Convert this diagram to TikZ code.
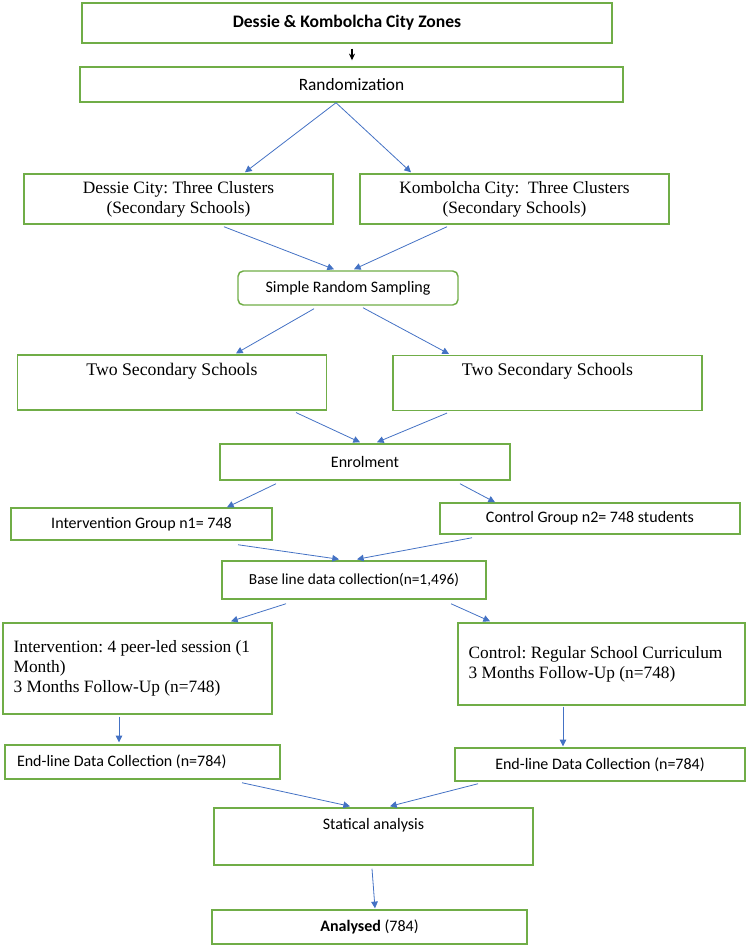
\documentclass[tikz,border=0pt]{standalone}
\usepackage{fontspec}
\setmainfont{Carlito}
\newfontfamily\timesfont{Liberation Serif}
\usetikzlibrary{calc, positioning, arrows.meta}
\definecolor{boxgreen}{RGB}{112,173,71}
\definecolor{arrowblue}{RGB}{68,114,196}
\frenchspacing

\begin{document}
\begin{tikzpicture}[x=0.75pt, y=-0.75pt,
    greenbox/.style={draw=boxgreen, line width=1.1pt, inner sep=0pt, font=\fontsize{12}{14}\selectfont},
    timesbox/.style={greenbox, font=\timesfont\fontsize{13}{15}\selectfont, align=center},
    timeslbl/.style={font=\timesfont\fontsize{13.3}{15}\selectfont, anchor=north, yshift=-3pt},
    bluearrow/.style={draw=arrowblue, line width=0.6pt, -{Triangle[length=5pt, width=5pt]}}]
    \useasboundingbox (0,0) rectangle (748,947);
    % Draw boxes
    \node[greenbox, minimum width=397.5pt, minimum height=30pt, font=\bfseries\fontsize{13.2}{15}\selectfont] (zones) at (347,23) {Dessie \& Kombolcha City Zones};
    \node[greenbox, minimum width=407.25pt, minimum height=26.25pt, font=\fontsize{13}{15}\selectfont] (rand) at (351.5,84.5) {Randomization};
    \node[timesbox, minimum width=231.75pt, minimum height=37.5pt] (dessie) at (178.5,199) {Dessie City: Three Clusters\\(Secondary Schools)};
    \node[timesbox, minimum width=231.75pt, minimum height=37.5pt] (kombol) at (514.5,199) {Kombolcha City:\ \ Three Clusters\\(Secondary Schools)};
    \node[greenbox, rounded corners=4pt, minimum width=165pt, minimum height=25.5pt] (srs) at (348,288) {Simple Random Sampling};
    \node[greenbox, minimum width=232pt, minimum height=41pt, label={[timeslbl]north:Two Secondary Schools}] (tssL) at (172,382.5) {};
    \node[greenbox, minimum width=232pt, minimum height=41pt, label={[timeslbl]north:Two Secondary Schools}] (tssR) at (547.5,383) {};
    \node[greenbox, minimum width=217.5pt, minimum height=27pt] (enrol) at (365,462) {Enrolment};
    \node[greenbox, minimum width=195.75pt, minimum height=24pt] (igrp) at (141.5,524) {Intervention Group n1= 748};
    \node[greenbox, minimum width=225pt, minimum height=23.25pt] (cgrp) at (590,518.5) {Control Group n2= 748 students};
    \node[greenbox, minimum width=198pt, minimum height=28.5pt, font=\fontsize{11.5}{14}\selectfont] (base) at (354,580) {Base line data collection(n=1,496)};
    \node[timesbox, align=flush left, inner xsep=8pt, text width=185.75pt, minimum height=68.25pt] (interv) at (137.5,668.5) {Intervention: 4 peer-led session (1\\Month)\\3 Months Follow-Up (n=748)};
    \node[timesbox, align=flush left, inner xsep=8pt, text width=199.25pt, minimum height=61.5pt] (ctrl) at (601.5,664) {Control: Regular School Curriculum\\3 Months Follow-Up (n=748)};
    \node[greenbox, align=flush left, inner xsep=9pt, text width=188.25pt, minimum height=25.5pt] (endL) at (142.5,762) {End-line Data Collection (n=784)};
    \node[greenbox, minimum width=217.5pt, minimum height=24.75pt] (endR) at (600,764.5) {End-line Data Collection (n=784)};
    \node[greenbox, minimum width=239.25pt, minimum height=42.75pt, label={[font=\fontsize{12}{14}\selectfont, anchor=north, yshift=-5pt]north:Statical analysis}] (stat) at (373.5,836.5) {};
    \node[greenbox, minimum width=236.25pt, minimum height=25.5pt] (anal) at (369.5,927) {{\bfseries Analysed} (784)};
    % Draw arrows
    \draw[line width=0.8pt, -{Stealth[length=5pt, width=4.5pt]}] ($(zones.south)+(5,5)$) -- ($(rand.north)+(0.5,-6)$);
    \draw[bluearrow] ($(rand.south)+(-15.5,0)$) -- ($(dessie.north)+(66.5,-1)$);
    \draw[bluearrow] ($(rand.south)+(-15.5,0)$) -- ($(kombol.north)+(-103.5,-1)$);
    \draw[bluearrow] ($(dessie.south)+(45.5,2)$) -- ($(srs.north)+(-14,-1)$);
    \draw[bluearrow] ($(kombol.south)+(-67.5,2)$) -- ($(srs.north)+(6,-1)$);
    \draw[bluearrow] ($(srs.south)+(-34,3)$) -- ($(tssL.north)+(64,-1)$);
    \draw[bluearrow] ($(srs.south)+(15,2)$) -- ($(tssR.north)+(-98.5,-1)$);
    \draw[bluearrow] ($(tssL.south)+(124,2)$) -- ($(enrol.north)+(-5,-1)$);
    \draw[bluearrow] ($(tssR.south)+(-100.5,2)$) -- ($(enrol.north)+(12,-1)$);
    \draw[bluearrow] ($(enrol.south)+(-89,3)$) -- ($(igrp.north)+(85.5,0)$);
    \draw[bluearrow] ($(enrol.south)+(95,3)$) -- ($(cgrp.north)+(-95,0)$);
    \draw[bluearrow] ($(igrp.south)+(96.5,4)$) -- ($(base.north)+(-15,-1)$);
    \draw[bluearrow] ($(cgrp.south)+(-118,3)$) -- ($(base.north)+(3,-1)$);
    \draw[bluearrow] ($(base.south)+(-68,4)$) -- ($(interv.north)+(93.5,-1)$);
    \draw[bluearrow] ($(base.south)+(97,4)$) -- ($(ctrl.north)+(-111.5,-1)$);
    \draw[bluearrow] ($(interv.south)+(-18.5,2)$) -- ($(endL.north)+(-23.5,-2)$);
    \draw[bluearrow] ($(ctrl.south)+(-38.5,1)$) -- ($(endR.north)+(-37,-1)$);
    \draw[bluearrow] ($(endL.south)+(99.5,3)$) -- ($(stat.north)+(-23.5,-1)$);
    \draw[bluearrow] ($(endR.south)+(-122,2)$) -- ($(stat.north)+(16.5,-1)$);
    \draw[bluearrow] ($(stat.south)+(-1.5,3)$) -- ($(anal.north)+(5.5,-1)$);
\end{tikzpicture}
\end{document}
